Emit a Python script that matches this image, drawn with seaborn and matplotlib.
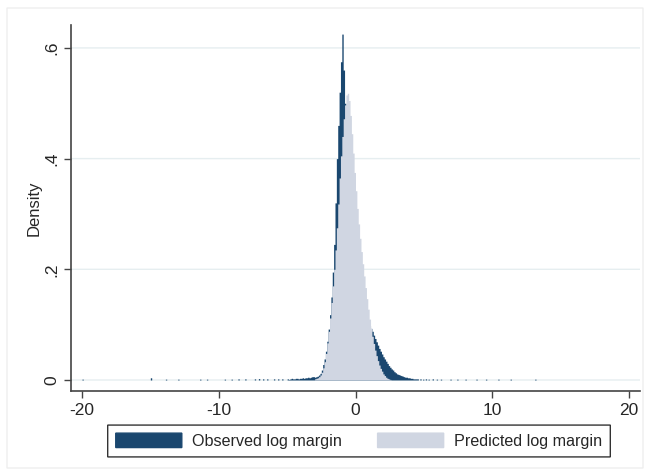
import numpy as np
import seaborn as sns
import matplotlib.pyplot as plt
from matplotlib.patches import Patch, Rectangle

# Observed log margin: density per 0.1-wide bin, left edges from -5.0 to 4.4
obs_start = -5.0
obs_width = 0.1
obs_heights = [
    0.002, 0.001, 0.002, 0.003, 0.002, 0.002, 0.003, 0.003, 0.002, 0.003,   # -5.0 .. -4.1
    0.003, 0.004, 0.003, 0.004, 0.004, 0.005, 0.004, 0.005, 0.006, 0.006,   # -4.0 .. -3.1
    0.005, 0.006, 0.007, 0.009, 0.012, 0.018, 0.028, 0.038, 0.052, 0.070,   # -3.0 .. -2.1
    0.092, 0.118, 0.150, 0.195, 0.245, 0.320, 0.400, 0.460, 0.520, 0.575,   # -2.0 .. -1.1
    0.625, 0.560, 0.500, 0.440, 0.390, 0.340, 0.300, 0.260, 0.230, 0.200,   # -1.0 .. -0.1
    0.180, 0.165, 0.155, 0.145, 0.135, 0.128, 0.120, 0.114, 0.108, 0.103,   #  0.0 .. 0.9
    0.098, 0.093, 0.088, 0.081, 0.075, 0.069, 0.063, 0.057, 0.052, 0.047,   #  1.0 .. 1.9
    0.042, 0.038, 0.034, 0.030, 0.026, 0.023, 0.020, 0.018, 0.015, 0.013,   #  2.0 .. 2.9
    0.011, 0.010, 0.009, 0.008, 0.007, 0.006, 0.005, 0.005, 0.004, 0.004,   #  3.0 .. 3.9
    0.003, 0.003, 0.002, 0.002, 0.002,                                       #  4.0 .. 4.4
]

# sparse outlying observed bins (bin centre, density)
obs_tail_x = [-19.95, -14.95, -13.85, -12.95, -11.35, -10.85, -9.55, -9.05,
              -8.55, -8.05, -7.35, -7.05, -6.75, -6.45, -5.95, -5.65, -5.35,
              4.55, 4.75, 4.95, 5.15, 5.35, 5.65, 5.95, 6.25, 6.95, 7.45,
              8.05, 8.85, 9.55, 10.45, 11.35, 13.15]
obs_tail_h = [0.0015, 0.004, 0.0015, 0.0015, 0.0015, 0.0015, 0.0015, 0.0015,
              0.002, 0.002, 0.002, 0.0025, 0.002, 0.002, 0.002, 0.002, 0.002,
              0.002, 0.002, 0.0015, 0.002, 0.0015, 0.002, 0.0015, 0.0015, 0.0015, 0.0015,
              0.0015, 0.0015, 0.0015, 0.0015, 0.0015, 0.0015]

# Predicted log margin: density per 0.1-wide bin, left edges from -3.0 to 2.5
pred_start = -3.0
pred_width = 0.1
pred_heights = [
    0.002, 0.003, 0.004, 0.006, 0.009, 0.014, 0.022, 0.033, 0.048, 0.067,   # -3.0 .. -2.1
    0.088, 0.112, 0.140, 0.170, 0.200, 0.235, 0.275, 0.318, 0.365, 0.405,   # -2.0 .. -1.1
    0.440, 0.472, 0.497, 0.515, 0.518, 0.505, 0.478, 0.445, 0.410, 0.375,   # -1.0 .. -0.1
    0.342, 0.310, 0.282, 0.256, 0.232, 0.210, 0.188, 0.167, 0.147, 0.128,   #  0.0 .. 0.9
    0.110, 0.094, 0.079, 0.066, 0.054, 0.044, 0.035, 0.027, 0.021, 0.016,   #  1.0 .. 1.9
    0.011, 0.008, 0.005, 0.003, 0.002, 0.001,                               #  2.0 .. 2.5
]

dark = '#1a476f'
light = '#d0d6e2'

obs_x = [obs_start + obs_width * (i + 0.5) for i in range(len(obs_heights))] + obs_tail_x
obs_w = obs_heights + obs_tail_h
pred_x = [pred_start + pred_width * (i + 0.5) for i in range(len(pred_heights))]

sns.set_style('ticks')
plt.rcParams['font.family'] = ['Liberation Sans', 'DejaVu Sans']
plt.rcParams['axes.unicode_minus'] = False
plt.rcParams['path.snap'] = False

fig = plt.figure(figsize=(6.47, 4.76), dpi=100)
ax = fig.add_axes([71 / 647, 85 / 476, 569 / 647, 366 / 476])

sns.histplot(x=obs_x, weights=obs_w, binwidth=obs_width, binrange=(-20.0, 13.3),
             element='step', fill=True, color=dark, alpha=1, linewidth=0,
             snap=False, ax=ax)
sns.histplot(x=pred_x, weights=pred_heights, binwidth=pred_width, binrange=(-3.0, 2.6),
             element='step', fill=True, color=light, alpha=1, linewidth=0,
             snap=False, ax=ax)

ax.set_xlim(-20.8, 20.8)
ax.set_ylim(-0.0199, 0.6414)
ax.set_xticks([-20, -10, 0, 10, 20])
ax.set_yticks([0, 0.2, 0.4, 0.6])
ax.set_yticklabels(['0', '.2', '.4', '.6'], rotation=90, va='center')
ax.yaxis.grid(True, color='#e6eef0', linewidth=1)
ax.xaxis.grid(False)
ax.set_axisbelow(True)
ax.set_xlabel('')
ax.set_ylabel('Density', fontsize=12, labelpad=2)
ax.tick_params(axis='both', labelsize=12.5, length=5, width=1, color='#444444')
for side in ['top', 'right']:
    ax.spines[side].set_visible(False)
for side in ['left', 'bottom']:
    ax.spines[side].set_color('#444444')
    ax.spines[side].set_linewidth(1.2)

fig.patches.append(Rectangle((7 / 647, 8 / 476), 636 / 647, 460 / 476, transform=fig.transFigure,
                             fill=False, edgecolor='#eeeeee', linewidth=1))

leg = fig.legend(handles=[Patch(color=dark), Patch(color=light)],
                 labels=['Observed log margin', 'Predicted log margin'],
                 ncol=2, loc='center', bbox_to_anchor=(359 / 647, 35 / 476),
                 fontsize=11.6, handlelength=4.1, handleheight=1.0, columnspacing=2.2,
                 handletextpad=0.65, borderpad=0.5, borderaxespad=0, fancybox=False, frameon=True)
leg.get_frame().set_edgecolor('black')
leg.get_frame().set_linewidth(1)

fig.savefig('out.png', dpi=100)
